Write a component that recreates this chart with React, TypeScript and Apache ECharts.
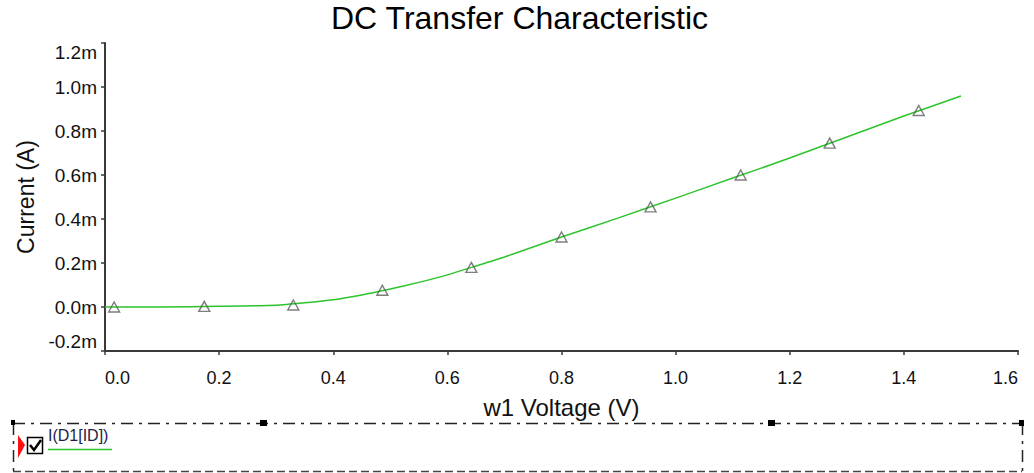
import React, { useEffect, useRef } from "react";
import * as echarts from "echarts";

// Curve samples (V, mA)
const voltage = [0, 0.1, 0.2, 0.3, 0.35, 0.4, 0.45, 0.5, 0.55, 0.6, 0.65, 0.7, 0.8, 0.9, 1.0, 1.1, 1.2, 1.3, 1.4, 1.5];
const currentMA = [0, 0, 0.003, 0.008, 0.019, 0.033, 0.055, 0.082, 0.112, 0.146, 0.186, 0.227, 0.318, 0.405, 0.495, 0.586, 0.677, 0.773, 0.868, 0.959];

// Marker positions (V, mA)
const markerV = [0.016, 0.174, 0.33, 0.486, 0.642, 0.8, 0.956, 1.114, 1.27, 1.426];
const markerMA = [0, 0.003, 0.009, 0.076, 0.18, 0.318, 0.455, 0.6, 0.745, 0.893];

const xTicks = [0, 0.2, 0.4, 0.6, 0.8, 1.0, 1.2, 1.4, 1.6];
const yTicksMA = [-0.2, 0, 0.2, 0.4, 0.6, 0.8, 1.0, 1.2];

const title = "DC Transfer Characteristic";
const xName = "w1 Voltage (V)";
const yName = "Current (A)";
const legendLabel = "I(D1[ID])";

const FONT = "Liberation Sans, Arial, sans-serif";
const GREEN = "#2cc42c";
const AXIS = "#3a3a3a";

export default function App() {
  const ref = useRef<HTMLDivElement>(null);
  useEffect(() => {
    if (!ref.current) return;
    const chart = echarts.init(ref.current, undefined, { renderer: "svg" });
    const lineData = voltage.map((v, i) => [v, currentMA[i]]);
    const markData = markerV.map((v, i) => [v, markerMA[i]]);
    chart.setOption({
      animation: false,
      backgroundColor: "#ffffff",
      title: {
        text: title,
        left: 331,
        top: 2,
        padding: 0,
        textStyle: { fontFamily: FONT, fontSize: 32, fontWeight: "normal", color: "#000" },
      },
      grid: { left: 105, right: 16, top: 43, bottom: 122, containLabel: false },
      xAxis: {
        type: "value",
        min: xTicks[0],
        max: xTicks[xTicks.length - 1],
        interval: 0.2,
        name: xName,
        nameLocation: "middle",
        nameGap: 44,
        nameTextStyle: { fontFamily: FONT, fontSize: 24, color: "#111" },
        axisLine: { show: true, onZero: false, lineStyle: { color: AXIS, width: 2 } },
        axisTick: { show: true, length: 4, lineStyle: { color: AXIS, width: 1.5 } },
        splitLine: { show: false },
        axisLabel: {
          fontFamily: FONT,
          fontSize: 18,
          color: "#111",
          margin: 18,
          alignMinLabel: "left",
          alignMaxLabel: "right",
          formatter: (v: number) => v.toFixed(1),
        },
      },
      yAxis: {
        type: "value",
        min: yTicksMA[0],
        max: yTicksMA[yTicksMA.length - 1],
        interval: 0.2,
        name: yName,
        nameLocation: "middle",
        nameGap: 65,
        nameTextStyle: { fontFamily: FONT, fontSize: 23, color: "#111" },
        axisLine: { show: true, onZero: false, lineStyle: { color: AXIS, width: 2 } },
        axisTick: { show: true, length: 4, lineStyle: { color: AXIS, width: 1.5 } },
        splitLine: { show: false },
        axisLabel: {
          fontFamily: FONT,
          fontSize: 19,
          color: "#111",
          margin: 8,
          verticalAlignMinLabel: "bottom",
          verticalAlignMaxLabel: "top",
          formatter: (v: number) => v.toFixed(1) + "m",
        },
      },
      series: [
        {
          type: "line",
          data: lineData,
          showSymbol: false,
          symbol: "none",
          smooth: 0.2,
          lineStyle: { color: GREEN, width: 1.5 },
          z: 2,
        },
        {
          type: "scatter",
          data: markData,
          symbol: "triangle",
          symbolSize: [11, 10],
          itemStyle: { color: "rgba(255,255,255,0)", borderColor: "#5e5e5e", borderWidth: 1.4 },
          z: 3,
        },
      ],
      graphic: [
        // legend frame
        { type: "line", shape: { x1: 13, y1: 423.5, x2: 1022, y2: 423.5 }, style: { stroke: "#222", lineWidth: 1.5, lineDash: [12, 6, 3, 6] } },
        { type: "line", shape: { x1: 13, y1: 471.5, x2: 1022, y2: 471.5 }, style: { stroke: "#444", lineWidth: 1.5, lineDash: [8, 4] } },
        { type: "line", shape: { x1: 13.5, y1: 423, x2: 13.5, y2: 472 }, style: { stroke: "#222", lineWidth: 1.5, lineDash: [12, 6, 3, 6] } },
        { type: "line", shape: { x1: 1022.5, y1: 423, x2: 1022.5, y2: 472 }, style: { stroke: "#222", lineWidth: 1.5, lineDash: [12, 6, 3, 6] } },
        { type: "rect", shape: { x: 11, y: 420, width: 4, height: 5 }, style: { fill: "#000" } },
        { type: "rect", shape: { x: 260, y: 420, width: 7, height: 6 }, style: { fill: "#000" } },
        { type: "rect", shape: { x: 768, y: 420, width: 7, height: 6 }, style: { fill: "#000" } },
        { type: "rect", shape: { x: 1019, y: 420, width: 5, height: 6 }, style: { fill: "#000" } },
        // legend item
        { type: "polygon", shape: { points: [[18, 435], [25, 445], [18, 458]] }, style: { fill: "#ff1010" } },
        { type: "rect", shape: { x: 27.5, y: 437.5, width: 15, height: 16 }, style: { fill: "#fff", stroke: "#000", lineWidth: 1.5 } },
        { type: "polyline", shape: { points: [[30, 445], [34, 450], [41, 440]] }, style: { stroke: "#000", lineWidth: 2.5, fill: "none" } },
        { type: "text", x: 48, y: 427, style: { text: legendLabel, fontFamily: FONT, fontSize: 16, fill: "#1a2448", textVerticalAlign: "top" } },
        { type: "line", shape: { x1: 48, y1: 449.5, x2: 112, y2: 449.5 }, style: { stroke: GREEN, lineWidth: 1.5 } },
      ],
    });
    return () => chart.dispose();
  }, []);
  return <div ref={ref} style={{ position: "fixed", left: 0, top: 0, width: 1034, height: 473 }} />;
}
